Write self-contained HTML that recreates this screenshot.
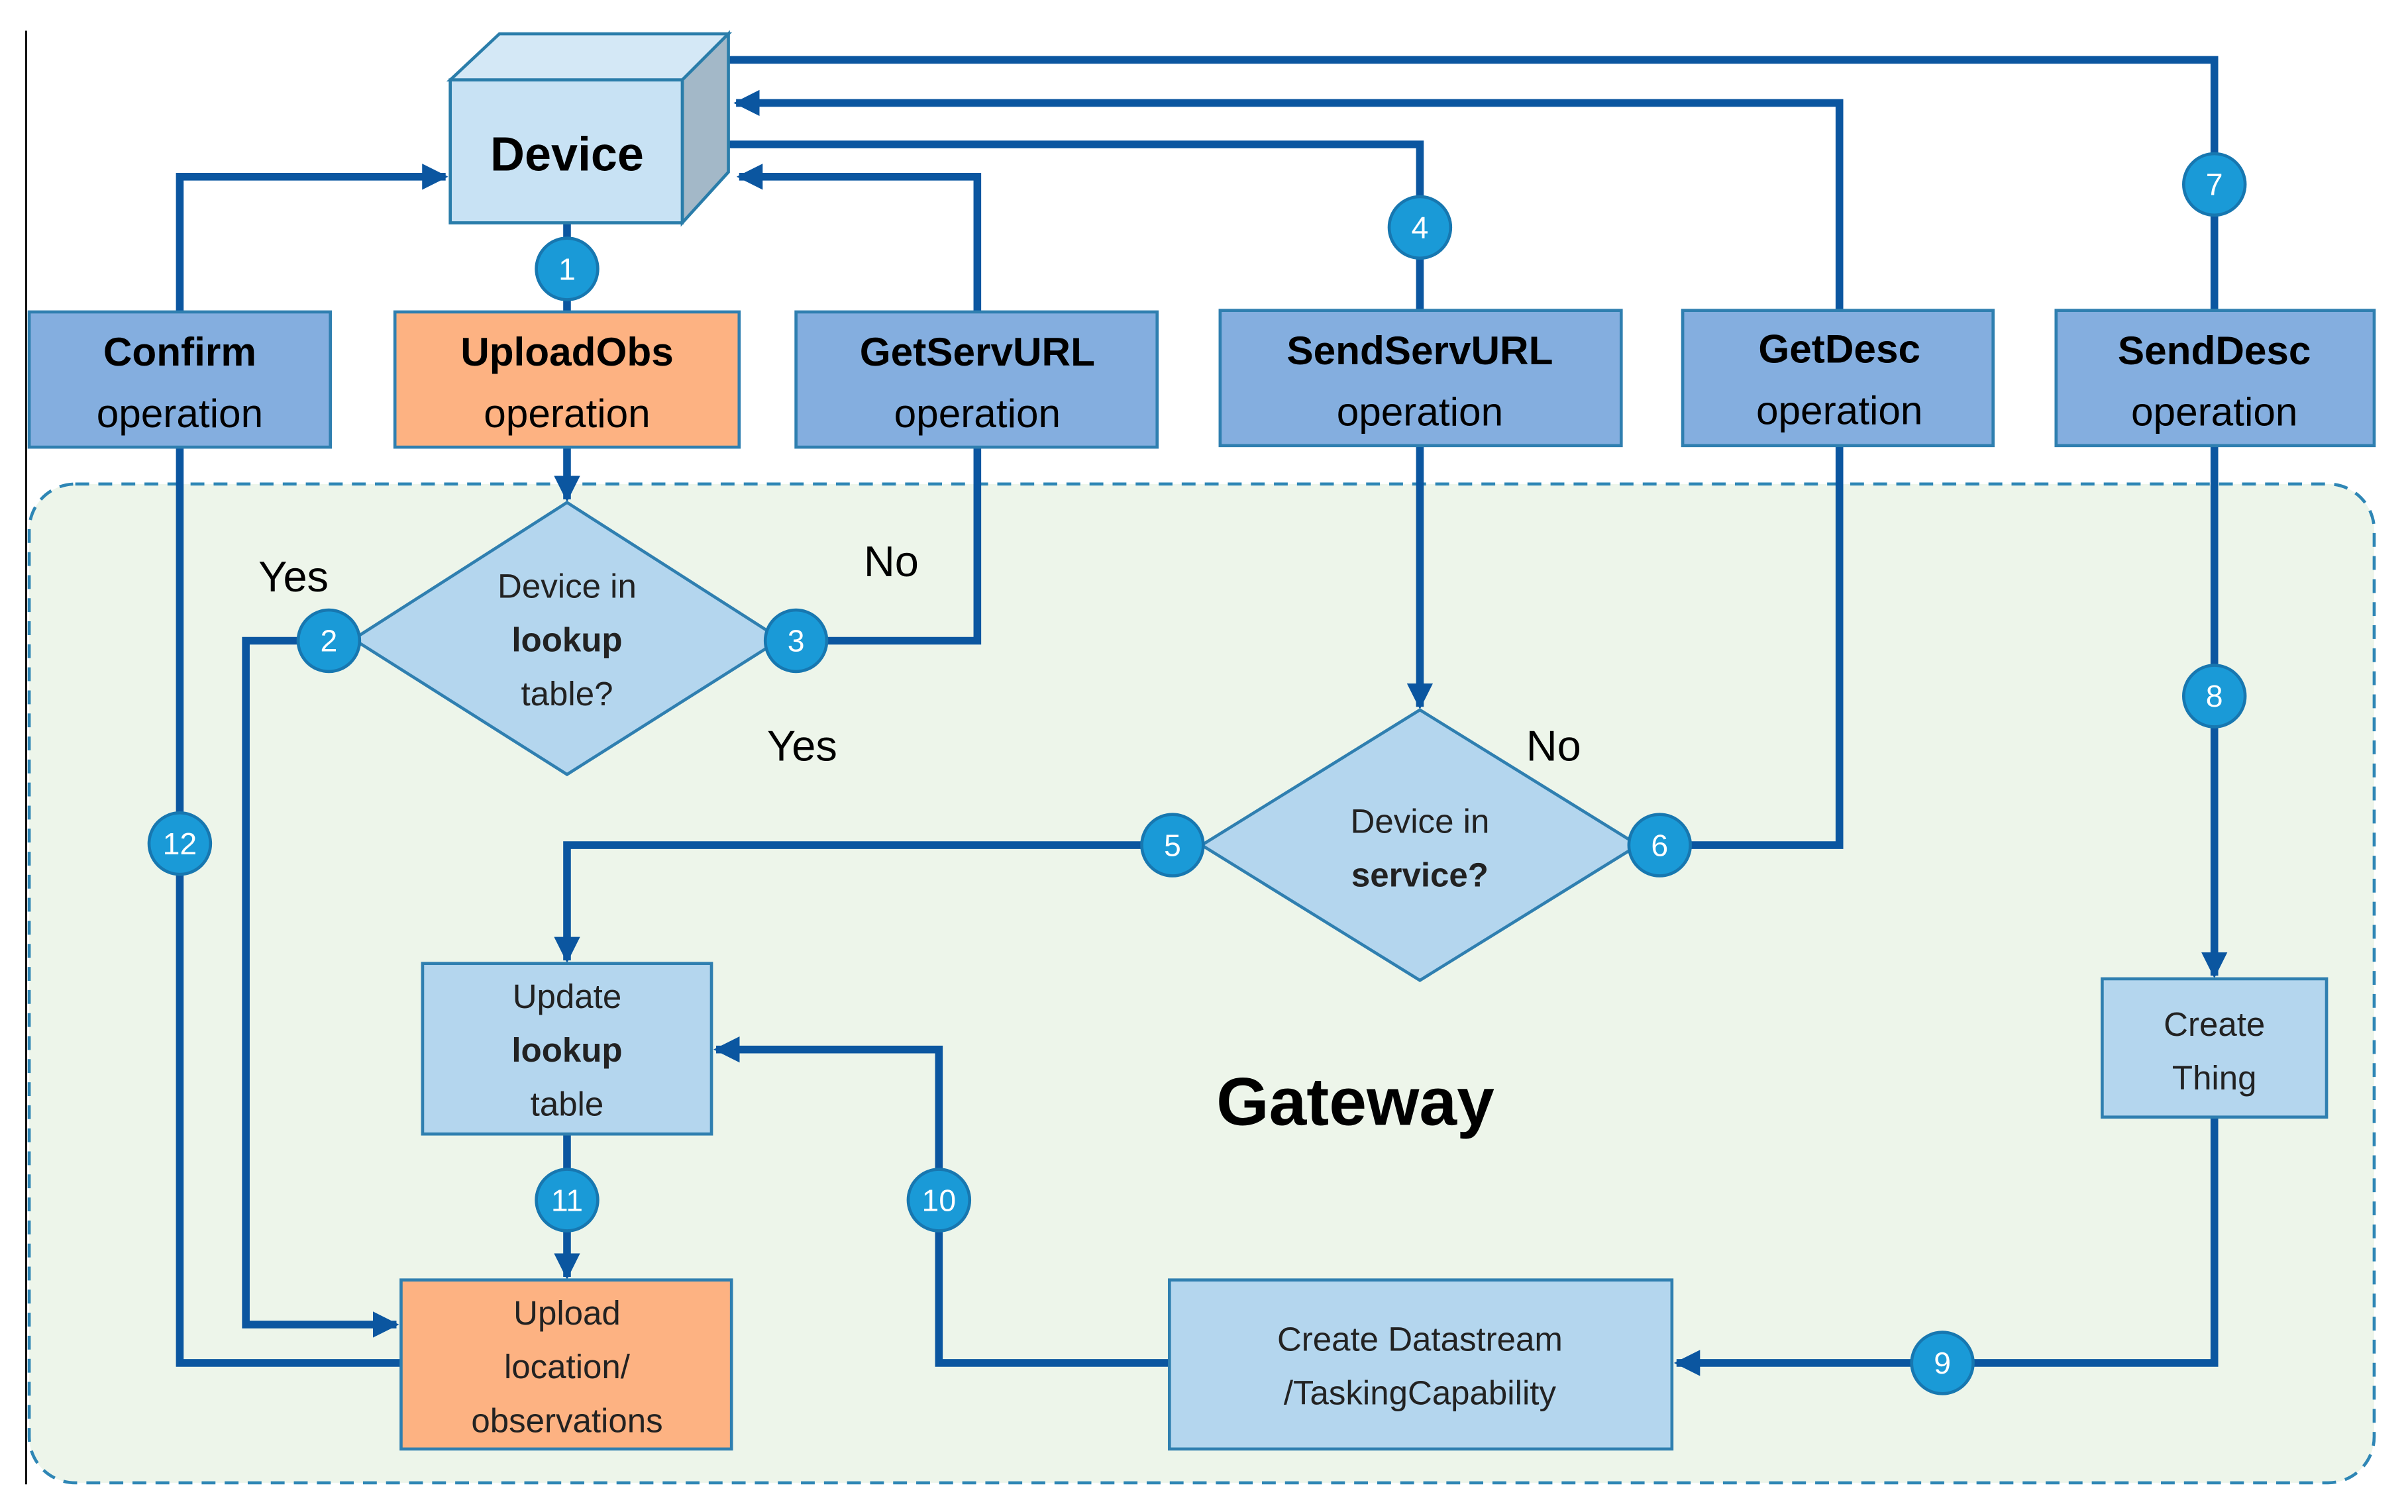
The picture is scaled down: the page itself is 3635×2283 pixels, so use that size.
<!DOCTYPE html>
<html><head><meta charset="utf-8"><style>
html,body{margin:0;padding:0;background:#fff;}
svg{display:block;}
text{font-family:"Liberation Sans",sans-serif;}
</style></head><body>
<svg width="3635" height="2283" viewBox="0 0 1567 984" preserveAspectRatio="none" xmlns="http://www.w3.org/2000/svg">
<defs>
<marker id="a" viewBox="0 0 10 10" refX="9" refY="5" markerWidth="3.4" markerHeight="3.4" orient="auto" markerUnits="strokeWidth">
<path d="M0,0 L10,5 L0,10 z" fill="#0B56A0"/></marker>
</defs>
<line x1="17" y1="20" x2="17" y2="966" stroke="#000" stroke-width="1.2"/>
<rect x="19" y="315" width="1526" height="650" rx="30" fill="#EDF5EA" stroke="#2E86B5" stroke-width="2" stroke-dasharray="9,6"/>
<text x="882" y="732" font-size="44" font-weight="bold" text-anchor="middle">Gateway</text>

<g fill="none" stroke="#0B56A0" stroke-width="5">
<polyline points="117,203 117,115 290,115" marker-end="url(#a)"/>
<polyline points="117,291 117,887 261,887"/>
<line x1="369" y1="145" x2="369" y2="203"/>
<polyline points="369,291 369,325" marker-end="url(#a)"/>
<polyline points="214,417 160,417 160,862 258,862" marker-end="url(#a)"/>
<polyline points="518,417 636,417 636,291"/>
<polyline points="636,203 636,115 481,115" marker-end="url(#a)"/>
<polyline points="474,94 924,94 924,202"/>
<polyline points="924,290 924,460" marker-end="url(#a)"/>
<polyline points="763,550 369,550 369,625" marker-end="url(#a)"/>
<polyline points="1080,550 1197,550 1197,290"/>
<polyline points="1197,203 1197,67 479,67" marker-end="url(#a)"/>
<polyline points="474,39 1441,39 1441,203"/>
<polyline points="1441,290 1441,635" marker-end="url(#a)"/>
<polyline points="1441,727 1441,887 1091,887" marker-end="url(#a)"/>
<polyline points="761,887 611,887 611,683 466,683" marker-end="url(#a)"/>
<polyline points="369,738 369,831" marker-end="url(#a)"/>
</g>

<polygon points="293,52 325,22 474,22 444,52" fill="#D4E8F6" stroke="#2A7DAA" stroke-width="2"/>
<polygon points="444,52 474,22 474,112 444,145" fill="#A3B8C8" stroke="#2A7DAA" stroke-width="2"/>
<rect x="293" y="52" width="151" height="93" fill="#C8E2F4" stroke="#2A7DAA" stroke-width="2"/>
<text x="369" y="111" font-size="31" font-weight="bold" text-anchor="middle">Device</text>

<g stroke="#2F7FB0" stroke-width="2">
<rect x="19" y="203" width="196" height="88" fill="#84AEDF"/>
<rect x="257" y="203" width="224" height="88" fill="#FDB282"/>
<rect x="518" y="203" width="235" height="88" fill="#84AEDF"/>
<rect x="794" y="202" width="261" height="88" fill="#84AEDF"/>
<rect x="1095" y="202" width="202" height="88" fill="#84AEDF"/>
<rect x="1338" y="202" width="207" height="88" fill="#84AEDF"/>
<polygon points="369,327 508,416 369,504 230,416" fill="#B4D6EE"/>
<polygon points="924,462 1066,550 924,638 782,550" fill="#B4D6EE"/>
<rect x="275" y="627" width="188" height="111" fill="#B4D6EE"/>
<rect x="1368" y="637" width="146" height="90" fill="#B4D6EE"/>
<rect x="761" y="833" width="327" height="110" fill="#B4D6EE"/>
<rect x="261" y="833" width="215" height="110" fill="#FDB282"/>
</g>

<g font-size="26" text-anchor="middle">
<text x="117" y="238" font-weight="bold">Confirm</text><text x="117" y="278">operation</text>
<text x="369" y="238" font-weight="bold">UploadObs</text><text x="369" y="278">operation</text>
<text x="636" y="238" font-weight="bold">GetServURL</text><text x="636" y="278">operation</text>
<text x="924" y="237" font-weight="bold">SendServURL</text><text x="924" y="277">operation</text>
<text x="1197" y="236" font-weight="bold">GetDesc</text><text x="1197" y="276">operation</text>
<text x="1441" y="237" font-weight="bold">SendDesc</text><text x="1441" y="277">operation</text>
</g>
<g font-size="22" text-anchor="middle" fill="#222">
<text x="369" y="389">Device in</text><text x="369" y="424" font-weight="bold">lookup</text><text x="369" y="459">table?</text>
<text x="924" y="542">Device in</text><text x="924" y="577" font-weight="bold">service?</text>
<text x="369" y="656">Update</text><text x="369" y="691" font-weight="bold">lookup</text><text x="369" y="726">table</text>
<text x="1441" y="674">Create</text><text x="1441" y="709">Thing</text>
<text x="924" y="879">Create Datastream</text><text x="924" y="914">/TaskingCapability</text>
<text x="369" y="862">Upload</text><text x="369" y="897">location/</text><text x="369" y="932">observations</text>
</g>
<g font-size="28" text-anchor="middle">
<text x="191" y="385">Yes</text><text x="580" y="375">No</text><text x="522" y="495">Yes</text><text x="1011" y="495">No</text>
</g>

<g fill="#1A9AD7" stroke="#1777B0" stroke-width="2">
<circle cx="369" cy="175" r="20"/><circle cx="214" cy="417" r="20"/><circle cx="518" cy="417" r="20"/>
<circle cx="924" cy="148" r="20"/><circle cx="763" cy="550" r="20"/><circle cx="1080" cy="550" r="20"/>
<circle cx="1441" cy="120" r="20"/><circle cx="1441" cy="453" r="20"/><circle cx="1264" cy="887" r="20"/>
<circle cx="611" cy="781" r="20"/><circle cx="369" cy="781" r="20"/><circle cx="117" cy="549" r="20"/>
</g>
<g fill="#fff" font-size="20" text-anchor="middle">
<text x="369" y="182">1</text><text x="214" y="424">2</text><text x="518" y="424">3</text>
<text x="924" y="155">4</text><text x="763" y="557">5</text><text x="1080" y="557">6</text>
<text x="1441" y="127">7</text><text x="1441" y="460">8</text><text x="1264" y="894">9</text>
<text x="611" y="788">10</text><text x="369" y="788">11</text><text x="117" y="556">12</text>
</g>
</svg>
</body></html>
